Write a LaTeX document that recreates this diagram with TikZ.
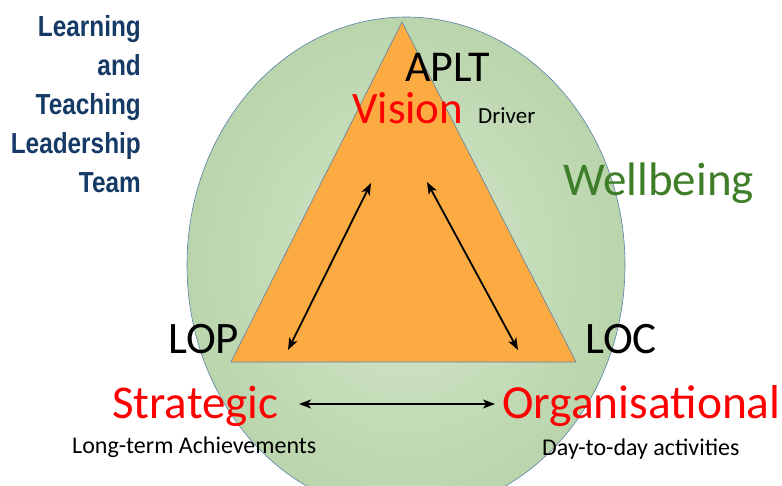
\documentclass[tikz,border=0pt]{standalone}
\usepackage{fontspec}
\setmainfont{Carlito}
\newfontfamily\teamfont[FakeStretch=0.84]{Liberation Sans}
\usetikzlibrary{arrows.meta}
\definecolor{teamblue}{RGB}{22,58,102}
\definecolor{ringblue}{RGB}{90,128,170}
\definecolor{greenin}{RGB}{212,230,203}
\definecolor{greenout}{RGB}{186,213,172}
\definecolor{triorange}{RGB}{251,171,66}
\definecolor{wellgreen}{RGB}{62,126,40}
\definecolor{keyred}{RGB}{255,0,0}
\tikzset{x=1pt, y=-1pt,
every node/.style={inner sep=0pt},
level/.style={ % corner names of the triangle
anchor=base west,
font=\fontsize{45}{45}\selectfont},
focus/.style={ % red key words
anchor=base west,
text=keyred,
font=\fontsize{47}{47}\selectfont},
note/.style={ % small black notes
anchor=base west,
font=\fontsize{24}{24}\selectfont},
link/.style={ % double headed arrows
{Stealth[length=12pt, width=9pt, inset=3pt]}-{Stealth[length=12pt, width=9pt, inset=3pt]},
line width=1.8pt}}

\begin{document}
\begin{tikzpicture}
	\useasboundingbox (0,0) rectangle (782,486);
	\clip (0,0) rectangle (782,486);
	% wellbeing circle and triangle
	\path[inner color=greenin, outer color=greenout] (406,265) ellipse [x radius=219, y radius=248];
	\draw[ringblue, line width=0.6pt] (406,265) ellipse [x radius=219, y radius=248];
	\draw[ringblue, line width=0.6pt, fill=triorange] (402,22) -- (231,362) -- (576,362) -- cycle;
	% team title
	\node[anchor=north east, align=right, text=teamblue,
		font=\teamfont\bfseries\fontsize{29}{39}\selectfont] (team) at (141,15)
		{Learning\\and\\Teaching\\Leadership\\Team};
	% labels
	\node[level, font=\fontsize{44}{44}\selectfont] (aplt) at (405,82) {APLT};
	\node[focus, font=\fontsize{45}{45}\selectfont] (vision) at (352,124) {Vision};
	\node[note, font=\fontsize{23}{23}\selectfont] (driver) at (478,124) {Driver};
	\node[focus, text=wellgreen] (well) at (563,196) {Wellbeing};
	\node[level] (lop) at (168,354) {LOP};
	\node[level] (loc) at (585,354) {LOC};
	\node[focus] (strat) at (112,418) {Strategic};
	\node[focus, font=\fontsize{47.5}{47.5}\selectfont] (organ) at (502,418) {Organisational};
	\node[note] (longterm) at (72,453) {Long-term Achievements};
	\node[note] (daytoday) at (542,455) {Day-to-day activities};
	% arrow ends
	\coordinate (v-l) at (371,183);
	\coordinate (v-r) at (427,182);
	\coordinate (s-t) at (288,350);
	\coordinate (o-t) at (518,350);
	\coordinate (s-r) at (299,404);
	\coordinate (o-l) at (495,404);
	\draw[link] (v-l) -- (s-t);
	\draw[link] (v-r) -- (o-t);
	\draw[link] (s-r) -- (o-l);
\end{tikzpicture}
\end{document}
